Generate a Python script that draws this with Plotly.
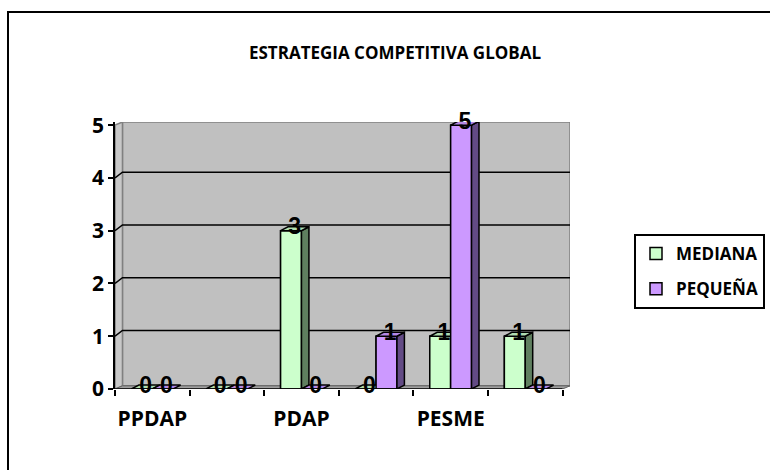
import plotly.graph_objects as go

# Data
categories = ["PPDAP", "", "PDAP", "", "PESME", ""]
mediana = [0, 0, 3, 0, 1, 1]
pequena = [0, 0, 0, 1, 5, 0]
y_ticks = [0, 1, 2, 3, 4, 5]
title_text = "ESTRATEGIA COMPETITIVA GLOBAL"

# Styling / pseudo-3D geometry (data units)
BAR_W = 0.28          # width of each column
DX = 0.1              # horizontal depth offset
DY_BAR = 0.075        # vertical depth offset of column tops
DY_GRID = 0.11        # gridline offset on the back wall
DY_FLOOR = 0.06
Y_TOP = 5.06
X_MIN, X_MAX = -0.5, 5.5

series = [
    dict(name="MEDIANA", values=mediana, offset=-BAR_W,
         front="#CCFFCC", side="#5F7F5F", top="#B0DDB0"),
    dict(name="PEQUEÑA", values=pequena, offset=0.0,
         front="#CC99FF", side="#634B85", top="#B488E6"),
]

fig = go.Figure()


def poly_trace(polys, color, name):
    xs, ys = [], []
    for p in polys:
        for (px, py) in p:
            xs.append(px)
            ys.append(py)
        xs.append(p[0][0])
        ys.append(p[0][1])
        xs.append(None)
        ys.append(None)
    return go.Scatter(x=xs, y=ys, mode="lines", fill="toself", fillcolor=color,
                      line=dict(color="black", width=1.5), showlegend=False,
                      hoverinfo="skip", name=name, cliponaxis=False)


# Legend/base columns
x_pos = list(range(len(categories)))
for s in series:
    fig.add_trace(go.Bar(
        x=x_pos, y=s["values"], width=BAR_W, offset=s["offset"], name=s["name"],
        marker=dict(color=s["front"], line=dict(color="black", width=1.5)),
        legendgroup=s["name"], hoverinfo="skip"))

# 3D faces drawn in painter's order
for s in series:
    fronts, sides, tops = [], [], []
    for c, v in zip(x_pos, s["values"]):
        x0 = c + s["offset"]
        x1 = x0 + BAR_W
        if v > 0:
            fronts.append([(x0, 0), (x1, 0), (x1, v), (x0, v)])
            sides.append([(x1, 0), (x1 + DX, DY_BAR), (x1 + DX, v + DY_BAR), (x1, v)])
        tops.append([(x0, v), (x1, v), (x1 + DX, v + DY_BAR), (x0 + DX, v + DY_BAR)])
    if fronts:
        fig.add_trace(poly_trace(fronts, s["front"], s["name"]))
    if sides:
        fig.add_trace(poly_trace(sides, s["side"], s["name"]))
    fig.add_trace(poly_trace(tops, s["top"], s["name"]))

# Value labels
for s in series:
    fig.add_trace(go.Scatter(
        x=[c + s["offset"] + BAR_W / 2 + DX / 2 for c in x_pos],
        y=[v + DY_BAR / 2 for v in s["values"]],
        text=[f"<b>{v}</b>" for v in s["values"]],
        mode="text", textposition="middle center", cliponaxis=False,
        textfont=dict(family="Liberation Sans", size=23, color="black"),
        showlegend=False, hoverinfo="skip"))

# Walls, floor and gridlines
shapes = []
wx0, wx1 = X_MIN + DX, X_MAX + DX
shapes.append(dict(type="path", layer="below",
                   path=f"M{wx0},{DY_FLOOR} L{wx1},{DY_FLOOR} L{wx1},{Y_TOP} L{wx0},{Y_TOP} Z",
                   fillcolor="#C0C0C0", line=dict(color="#808080", width=1.5)))
shapes.append(dict(type="path", layer="below",
                   path=f"M{X_MIN},0 L{wx0},{DY_FLOOR} L{wx0},{Y_TOP} L{X_MIN},{y_ticks[-1]} Z",
                   fillcolor="#C8C8C8", line=dict(color="#808080", width=1.5)))
shapes.append(dict(type="path", layer="below",
                   path=f"M{X_MIN},0 L{X_MAX},0 L{wx1},{DY_FLOOR} L{wx0},{DY_FLOOR} Z",
                   fillcolor="#A0A0A0", line=dict(color="#606060", width=1)))
for v in y_ticks[1:-1]:
    shapes.append(dict(type="path", layer="below",
                       path=f"M{X_MIN},{v} L{wx0},{v + DY_GRID} L{wx1},{v + DY_GRID}",
                       line=dict(color="black", width=1.5)))
# category axis baseline
shapes.append(dict(type="line", layer="above", x0=X_MIN, x1=X_MAX, y0=0, y1=0,
                   line=dict(color="black", width=1.5)))
# outer chart frame
shapes.append(dict(type="rect", xref="paper", yref="paper",
                   x0=(8 - 115) / 455, x1=1.45, y0=-0.35, y1=(389 - 12) / 267,
                   line=dict(color="black", width=2), fillcolor="rgba(0,0,0,0)"))

fig.update_layout(
    width=770, height=470,
    margin=dict(l=115, r=200, t=122, b=81, autoexpand=False),
    paper_bgcolor="white", plot_bgcolor="white",
    barmode="overlay",
    shapes=shapes,
    title=dict(text=f"<b>{title_text}</b>", x=395 / 770, xanchor="center",
               y=1 - 53 / 470, yanchor="middle",
               font=dict(family="Open Sans", size=17, color="black")),
    legend=dict(x=(634 - 115) / 455, y=(389 - 234) / 267, xanchor="left", yanchor="top",
                bordercolor="black", borderwidth=2, bgcolor="white",
                font=dict(family="Open Sans", size=17, color="black", weight="bold"),
                tracegroupgap=10, traceorder="grouped", itemwidth=30),
    xaxis=dict(range=[X_MIN, X_MAX + DX], tickmode="array", tickvals=x_pos,
               ticktext=[f"<b>{c}</b>" if c else "" for c in categories],
               ticks="outside", ticklen=11, tickcolor="rgba(0,0,0,0)",
               tickfont=dict(family="Open Sans", size=21, color="black"),
               showgrid=False, zeroline=False, showline=False,
               minor=dict(ticks="outside", ticklen=6, tickwidth=1.5, tickcolor="black",
                          tick0=X_MIN, dtick=1, showgrid=False)),
    yaxis=dict(range=[0, Y_TOP], tickmode="array", tickvals=y_ticks,
               ticktext=[f"<b>{t}</b>" for t in y_ticks],
               ticks="outside", ticklen=5, tickwidth=1.5, tickcolor="black",
               tickfont=dict(family="Open Sans", size=21, color="black"),
               showgrid=False, zeroline=False, showline=True,
               linecolor="black", linewidth=1.5),
)

fig.write_html("out.html")
